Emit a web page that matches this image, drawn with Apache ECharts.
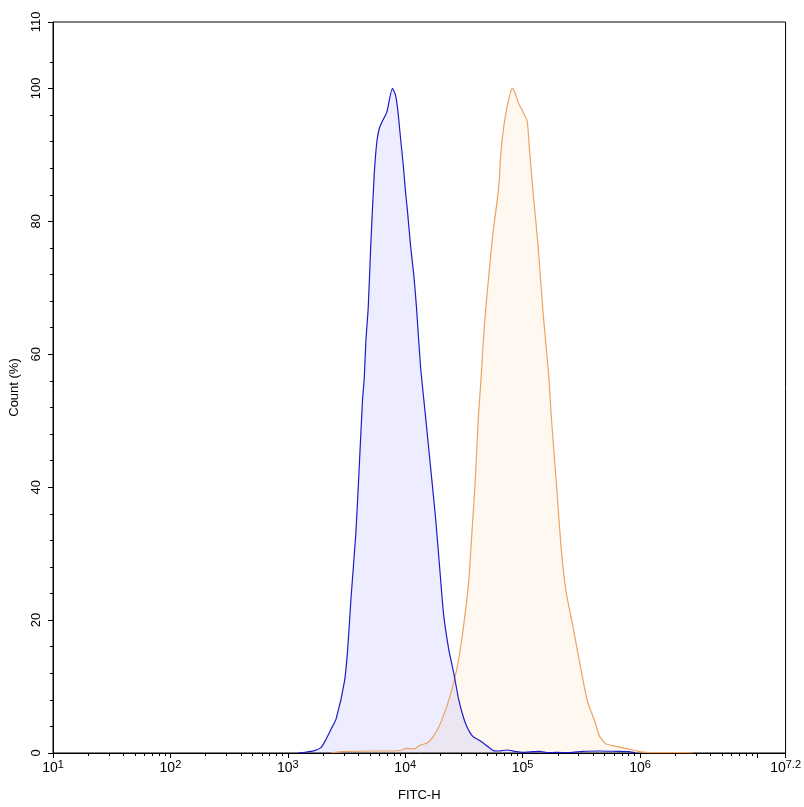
<!DOCTYPE html>
<html>
<head>
<meta charset="utf-8">
<script src="https://cdn.jsdelivr.net/npm/echarts@6/dist/echarts.min.js"></script>
<style>
html,body{margin:0;padding:0;background:#fff;}
#chart{width:804px;height:807px;}
</style>
</head>
<body>
<div id="chart"></div>
<script>
// x values are log10(FITC-H)
const blueX = [3.087,3.144,3.228,3.284,3.327,3.369,3.411,3.482,3.510,3.538,3.580,3.609,3.637,3.651,3.665,3.685,3.707,3.736,3.758,3.778,3.806,3.843,3.891,3.919,3.939,3.961,3.984,4.003,4.018,4.046,4.074,4.096,4.130,4.173,4.215,4.257,4.299,4.328,4.371,4.413,4.455,4.497,4.525,4.555,4.582,4.638,4.695,4.751,4.800,4.864,4.948,5.000,5.090,5.146,5.220,5.287,5.400,5.513,5.653,5.794,5.907,5.964];
const blueY = [0,0.1,0.35,0.85,2.1,3.6,5.1,10.7,15.6,23.2,33.2,43.2,53.3,56.3,62,67,76.5,87,91.9,93.9,95.1,96.4,100,98.9,96.4,92.4,88.4,84.4,81.8,76.3,71.8,67.1,58.3,50.7,43.2,35.7,26.7,20.7,15.6,12.1,8.1,5.3,4.0,3.0,2.4,1.85,1.1,0.35,0.3,0.45,0.2,0.1,0.2,0.25,0.05,0.1,0.05,0.25,0.3,0.25,0.2,0];
const orangeX = [3.369,3.453,3.736,3.905,3.975,4.003,4.074,4.130,4.187,4.244,4.286,4.314,4.356,4.413,4.455,4.497,4.540,4.568,4.596,4.624,4.646,4.672,4.709,4.751,4.785,4.802,4.813,4.830,4.849,4.870,4.892,4.912,4.934,4.963,5.005,5.039,5.056,5.075,5.095,5.132,5.174,5.225,5.244,5.287,5.329,5.371,5.428,5.470,5.513,5.555,5.611,5.653,5.695,5.710,5.794,5.879,5.936,5.992,6.049,6.175,6.400,6.450];
const orangeY = [0,0.2,0.3,0.3,0.45,0.7,0.6,1.2,1.5,2.6,3.9,5.1,7.1,10.6,14.1,19.1,25.6,33.1,40.7,50.7,56.3,63.8,71.3,78.8,83.3,86.4,89.9,92.9,95.4,97.4,99.1,100,99.4,97.9,96.4,95.1,91.4,87.4,83.3,76.3,66.3,56.3,50.7,40.7,30.7,24.2,19.1,15.1,11.1,7.6,5.0,2.6,1.6,1.35,1.0,0.7,0.45,0.25,0.1,0.05,0.05,0];

const xMajorTicks = [1,2,3,4,5,6,7,7.24];
const xLabelValues = [1,2,3,4,5,6,7.24];
const xTickLabels = ['1','2','3','4','5','6','7.2'];
const xMinorMultipliers = [2,3,4,5,6,7,8,9];
const yMajorTicks = [0,20,40,60,80,100,110];
const yTickLabels = ['0','20','40','60','80','100','110'];
const yMinorTicks = [4,8,12,16,24,28,32,36,44,48,52,56,64,68,72,76,84,88,92,96,104];

const xMinorTicks = [];
for (let d = 1; d <= 6; d++) {
  xMinorMultipliers.forEach(k => xMinorTicks.push(d + Math.log10(k)));
}

const X_MIN = 1, X_MAX = 7.24;
const chart = echarts.init(document.getElementById('chart'));
const FONT = 'Liberation Sans, Arial, sans-serif';

chart.setOption({
  animation: false,
  backgroundColor: '#fff',
  textStyle: {fontFamily: FONT},
  grid: {left: 53, right: 14, top: 22, bottom: 53, show: true, borderColor: '#000', borderWidth: 1, backgroundColor: 'transparent'},
  xAxis: [{
    type: 'value', min: X_MIN, max: X_MAX, position: 'bottom',
    axisLine: {show: true, onZero: false, lineStyle: {color: '#000', width: 1}},
    axisTick: {show: true, length: 5, customValues: xMajorTicks, lineStyle: {color: '#000'}},
    axisLabel: {
      customValues: xLabelValues, margin: 6, color: '#000',
      formatter: function (v) {
        let i = xLabelValues.findIndex(t => Math.abs(t - v) < 1e-6);
        return '{b|10}{s|' + (i >= 0 ? xTickLabels[i] : v) + '}';
      },
      rich: {
        b: {fontSize: 14, fontFamily: FONT, color: '#000'},
        s: {fontSize: 11, fontFamily: FONT, color: '#000', padding: [0, 0, 8, 0]}
      }
    },
    splitLine: {show: false},
    name: 'FITC-H', nameLocation: 'middle', nameGap: 36,
    nameTextStyle: {fontSize: 13, color: '#000', fontFamily: FONT}
  }, {
    type: 'value', min: X_MIN, max: X_MAX, position: 'bottom',
    axisLine: {show: false},
    axisTick: {show: true, length: 3, customValues: xMinorTicks, lineStyle: {color: '#000'}},
    axisLabel: {show: false},
    splitLine: {show: false}
  }],
  yAxis: [{
    type: 'value', min: 0, max: 110, position: 'left',
    axisLine: {show: true, onZero: false, lineStyle: {color: '#000', width: 1}},
    axisTick: {show: true, length: 5, customValues: yMajorTicks, lineStyle: {color: '#000'}},
    axisLabel: {
      customValues: yMajorTicks, rotate: 90, margin: 10, fontSize: 13, color: '#000',
      formatter: function (v) {
        let i = yMajorTicks.indexOf(v);
        return i >= 0 ? yTickLabels[i] : String(v);
      }
    },
    splitLine: {show: false},
    name: 'Count (%)', nameLocation: 'middle', nameGap: 32,
    nameTextStyle: {fontSize: 13, color: '#000', fontFamily: FONT}
  }, {
    type: 'value', min: 0, max: 110, position: 'left',
    axisLine: {show: false},
    axisTick: {show: true, length: 3, customValues: yMinorTicks, lineStyle: {color: '#000'}},
    axisLabel: {show: false},
    splitLine: {show: false}
  }],
  series: [{
    name: 'orange', type: 'line', xAxisIndex: 0, yAxisIndex: 0,
    data: orangeX.map((x, i) => [x, orangeY[i]]),
    showSymbol: false, smooth: 0.2,
    lineStyle: {color: '#eea262', width: 1.2},
    areaStyle: {color: 'rgba(240,150,60,0.1)'}
  }, {
    name: 'blue', type: 'line', xAxisIndex: 0, yAxisIndex: 0,
    data: blueX.map((x, i) => [x, blueY[i]]),
    showSymbol: false, smooth: 0.2,
    lineStyle: {color: '#1c1cc8', width: 1.2},
    areaStyle: {color: 'rgba(0,0,255,0.1)'}
  }]
});
</script>
</body>
</html>
